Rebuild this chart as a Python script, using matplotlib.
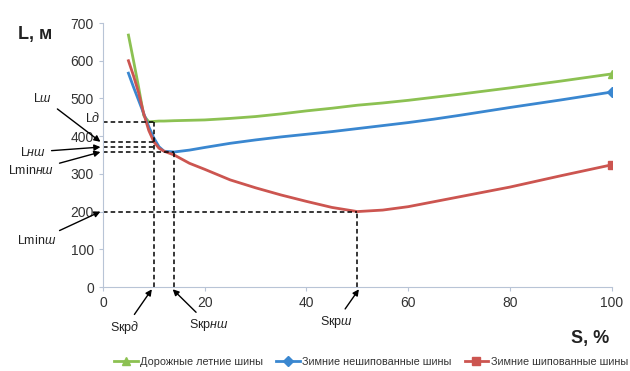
import matplotlib.pyplot as plt

plt.rcParams['font.family'] = ['Liberation Sans', 'DejaVu Sans']
plt.rcParams['mathtext.fontset'] = 'custom'
plt.rcParams['mathtext.rm'] = 'Liberation Sans'
plt.rcParams['mathtext.it'] = 'Liberation Sans:italic'

# Slip S, % and stopping distance L, m
s = [5, 6, 7, 8, 9, 10, 11, 12, 14, 17, 20, 25, 30, 35, 40, 45, 50, 55, 60, 65, 70, 80, 90, 100]
summer = [668, 600, 530, 455, 438, 439, 440, 440, 441, 442, 443, 447, 452, 459, 467, 474,
          482, 488, 495, 503, 511, 528, 546, 565]
winter_plain = [567, 530, 495, 460, 425, 395, 372, 360, 358, 363, 370, 381, 390, 398, 405, 412,
                420, 428, 436, 445, 455, 476, 496, 517]
winter_studs = [600, 560, 515, 460, 415, 385, 368, 360, 350, 328, 312, 284, 263, 244, 227, 211,
                200, 204, 213, 226, 239, 265, 295, 324]

series_names = ['Дорожные летние шины', 'Зимние нешипованные шины', 'Зимние шипованные шины']

# critical points
s_kr_d, s_kr_nsh, s_kr_sh = 10, 14, 50
l_d, l_sh, l_nsh, l_min_nsh, l_min_sh = 437, 385, 371, 358, 200

fig = plt.figure(figsize=(6.3, 3.71), dpi=100)
ax = fig.add_axes([0.1635, 0.2264, 0.8075, 0.7116])

ax.plot(s, summer, color='#8cc152', lw=2, marker='^', markevery=[-1], ms=6, label=series_names[0])
ax.plot(s, winter_plain, color='#3a87d0', lw=2, marker='D', markevery=[-1], ms=5, label=series_names[1])
ax.plot(s, winter_studs, color='#cc5550', lw=2, marker='s', markevery=[-1], ms=6, label=series_names[2])

dash = dict(color='black', lw=1.1, ls=(0, (3, 2)))
ax.plot([0, s_kr_d], [l_d, l_d], **dash)
ax.plot([0, s_kr_d], [l_sh, l_sh], **dash)
ax.plot([0, s_kr_d], [l_nsh, l_nsh], **dash)
ax.plot([0, s_kr_nsh], [l_min_nsh, l_min_nsh], **dash)
ax.plot([0, s_kr_sh], [l_min_sh, l_min_sh], **dash)
ax.plot([s_kr_d, s_kr_d], [0, l_d], **dash)
ax.plot([s_kr_nsh, s_kr_nsh], [0, l_min_nsh], **dash)
ax.plot([s_kr_sh, s_kr_sh], [0, l_min_sh], **dash)

ax.set_xlim(0, 100)
ax.set_ylim(0, 700)
ax.set_xticks(range(0, 101, 20))
ax.set_yticks(range(0, 701, 100))
for side in ['top', 'right']:
    ax.spines[side].set_visible(False)
for side in ['left', 'bottom']:
    ax.spines[side].set_color('#b8c4d6')
ax.tick_params(colors='#b8c4d6', labelcolor='#333333', labelsize=10, length=3)


def px(x, y):
    return (x / 630, 1 - y / 371)


arrow = dict(arrowstyle='-|>', color='black', lw=1, mutation_scale=9, shrinkA=2, shrinkB=0)
notes = [
    ('L$\\mathit{ш}$', (-0.5, l_sh), (43, 98)),
    ('L$\\mathit{нш}$', (-0.5, l_nsh), (33, 152)),
    ('Lmin$\\mathit{нш}$', (-0.5, l_min_nsh), (31, 171)),
    ('Lmin$\\mathit{ш}$', (-0.5, l_min_sh), (37, 241)),
    ('Sкр$\\mathit{д}$', (s_kr_d - 0.4, -6), (125, 328)),
    ('Sкр$\\mathit{нш}$', (s_kr_nsh - 0.3, -6), (209, 325)),
    ('Sкр$\\mathit{ш}$', (s_kr_sh + 0.3, -6), (336, 322)),
]
for text, tip, pos in notes:
    ax.annotate(text, xy=tip, xycoords='data', xytext=px(*pos), textcoords='figure fraction',
                ha='center', va='center', fontsize=9, color='#222222',
                arrowprops=arrow, annotation_clip=False)

fig.text(*px(93, 118), 'L$\\mathit{д}$', ha='center', va='center', fontsize=9, color='#222222')
fig.text(*px(35, 35), 'L, м', ha='center', va='center', fontsize=13, fontweight='bold', color='#222222')
fig.text(*px(590, 338), 'S, %', ha='center', va='center', fontsize=13, fontweight='bold', color='#222222')

fig.legend(loc='center', bbox_to_anchor=px(371, 362), ncol=3, frameon=False, fontsize=7.8,
           handlelength=2.2, handletextpad=0.2, columnspacing=1.2, labelcolor='#333333')

fig.savefig('out.png', dpi=100)
